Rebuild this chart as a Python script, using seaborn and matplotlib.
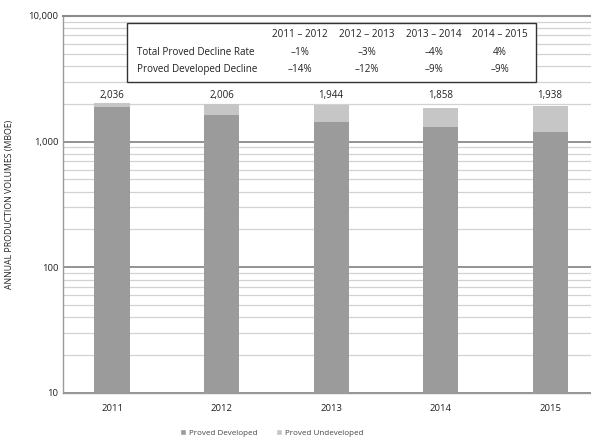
import matplotlib
matplotlib.use('Agg')
import matplotlib.pyplot as plt
import matplotlib.ticker as mticker
from matplotlib.patches import Rectangle, Patch
import pandas as pd
import seaborn as sns

years = ['2011', '2012', '2013', '2014', '2015']
developed = [1900, 1635, 1440, 1310, 1190]
total = [2036, 2006, 1944, 1858, 1938]
total_labels = ['2,036', '2,006', '1,944', '1,858', '1,938']

periods = ['2011 – 2012', '2012 – 2013', '2013 – 2014', '2014 – 2015']
total_decline = ['–1%', '–3%', '–4%', '4%']
dev_decline = ['–14%', '–12%', '–9%', '–9%']

df = pd.DataFrame({'year': years, 'developed': developed, 'total': total})

sns.set_style('white')
plt.rcParams['font.family'] = ['Open Sans', 'DejaVu Sans']

fig = plt.figure(figsize=(5.91, 4.37), dpi=100)
ax = fig.add_axes([0.1066, 0.1007, 0.8934, 0.8627])

c_dev = '#9b9b9b'
c_und = '#c6c6c6'

sns.barplot(data=df, x='year', y='total', color=c_und, width=0.32, ax=ax,
            saturation=1, linewidth=0, zorder=3)
sns.barplot(data=df, x='year', y='developed', color=c_dev, width=0.32, ax=ax,
            saturation=1, linewidth=0, zorder=3)

ax.set_yscale('log')
ax.set_ylim(10, 10000)
ax.set_xlim(-0.4475, 4.374)

ax.yaxis.set_major_locator(mticker.LogLocator(base=10))
ax.yaxis.set_minor_locator(mticker.LogLocator(base=10, subs=range(2, 10)))
ax.yaxis.set_major_formatter(mticker.FuncFormatter(lambda v, p: f'{int(round(v)):,}'))
ax.yaxis.set_minor_formatter(mticker.NullFormatter())
ax.grid(which='major', axis='y', color='#8a8a8a', lw=1.3, zorder=0)
ax.grid(which='minor', axis='y', color='#d2d2d2', lw=0.9, zorder=0)
ax.set_axisbelow(True)
ax.tick_params(axis='both', which='both', length=0, labelsize=6.8, colors='#222222')
ax.tick_params(axis='x', pad=8)

ax.spines['right'].set_visible(False)
ax.spines['top'].set_color('#8a8a8a')
ax.spines['top'].set_linewidth(1.5)
ax.spines['left'].set_color('#9a9a9a')
ax.spines['bottom'].set_color('#9a9a9a')
ax.spines['left'].set_linewidth(1.0)
ax.spines['bottom'].set_linewidth(1.0)

ax.set_xlabel('')
ax.set_ylabel('ANNUAL PRODUCTION VOLUMES (MBOE)', fontsize=6.3, labelpad=10,
              color='#222222')

for i, lab in enumerate(total_labels):
    ax.text(i, 2350, lab, ha='center', va='center', fontsize=7, color='#222222')

# decline-rate box
fig.patches.append(Rectangle((0.2149, 0.8124), 0.907 - 0.2149, 0.947 - 0.8124,
                             transform=fig.transFigure, facecolor='white',
                             edgecolor='#333333', lw=1.0, zorder=5))
col_x = [0.5076, 0.621, 0.7343, 0.846]
rows_y = [0.920, 0.881, 0.840]
fs = 7.1
fig.text(0.2318, rows_y[1], 'Total Proved Decline Rate', fontsize=fs, va='center',
         color='#222222', zorder=6)
fig.text(0.2318, rows_y[2], 'Proved Developed Decline', fontsize=fs, va='center',
         color='#222222', zorder=6)
for x, p, t, d in zip(col_x, periods, total_decline, dev_decline):
    fig.text(x, rows_y[0], p, fontsize=fs, ha='center', va='center', color='#222222', zorder=6)
    fig.text(x, rows_y[1], t, fontsize=fs, ha='center', va='center', color='#222222', zorder=6)
    fig.text(x, rows_y[2], d, fontsize=fs, ha='center', va='center', color='#222222', zorder=6)

handles = [Patch(facecolor=c_dev, label='Proved Developed'),
           Patch(facecolor=c_und, label='Proved Undeveloped')]
fig.legend(handles=handles, loc='center', bbox_to_anchor=(0.46, 0.01), ncol=2,
           frameon=False, fontsize=5.8, handlelength=0.8, handleheight=0.8,
           columnspacing=2.2, handletextpad=0.4, labelcolor='#444444')

fig.savefig('out.png', dpi=100)
